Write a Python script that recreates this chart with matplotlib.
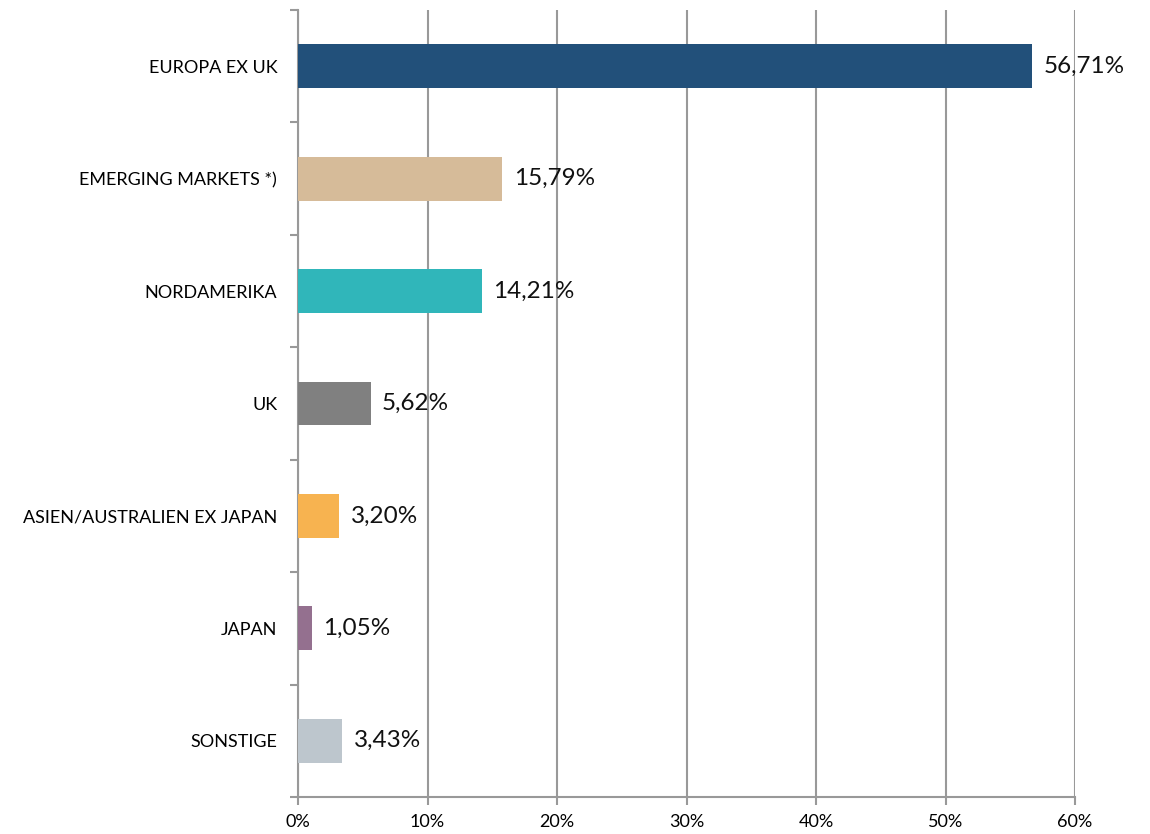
import numpy as np
import matplotlib.pyplot as plt
from matplotlib.ticker import FixedLocator

categories = [
    "EUROPA EX UK",
    "EMERGING MARKETS *)",
    "NORDAMERIKA",
    "UK",
    "ASIEN/AUSTRALIEN EX JAPAN",
    "JAPAN",
    "SONSTIGE",
]
values = [56.71, 15.79, 14.21, 5.62, 3.20, 1.05, 3.43]
colors = ["#22507A", "#D6BB99", "#30B6BA", "#808080", "#F7B350", "#94708F", "#BDC6CD"]
x_ticks = [0, 10, 20, 30, 40, 50, 60]

plt.rcParams["font.family"] = ["Lato", "DejaVu Sans"]
GRID = "#999999"

fig = plt.figure(figsize=(11.5, 8.34), dpi=100)
ax = fig.add_axes([298 / 1150, 1 - 797 / 834, (1075 - 298) / 1150, (797 - 10) / 834])

pos = np.arange(len(categories))
ax.barh(pos, values, height=0.39, color=colors, zorder=3)

for p, v in zip(pos, values):
    ax.annotate(
        "{:.2f}%".format(v).replace(".", ","),
        xy=(v, p),
        xytext=(8, 0),
        textcoords="offset points",
        va="center",
        ha="left",
        fontsize=17.5,
        color="#111111",
        zorder=4,
    )

ax.set_xlim(0, 60)
ax.set_ylim(len(categories) - 0.5, -0.5)
ax.set_xticks(x_ticks)
ax.set_xticklabels(["{}%".format(t) for t in x_ticks], fontsize=13)
ax.set_yticks(pos)
ax.set_yticklabels(categories, fontsize=13)
ax.yaxis.set_minor_locator(FixedLocator(np.arange(-0.5, len(categories), 1.0)))

ax.tick_params(axis="y", which="major", length=0, pad=15)
ax.tick_params(axis="y", which="minor", length=6, width=1.5, color=GRID)
ax.tick_params(axis="x", which="major", length=6, width=1.5, color=GRID, pad=6)

ax.grid(axis="x", color=GRID, linewidth=1.5, zorder=0)
ax.set_axisbelow(True)
for side in ["top", "right"]:
    ax.spines[side].set_visible(False)
for side in ["left", "bottom"]:
    ax.spines[side].set_color(GRID)
    ax.spines[side].set_linewidth(1.5)

fig.savefig("out.png", dpi=100)
